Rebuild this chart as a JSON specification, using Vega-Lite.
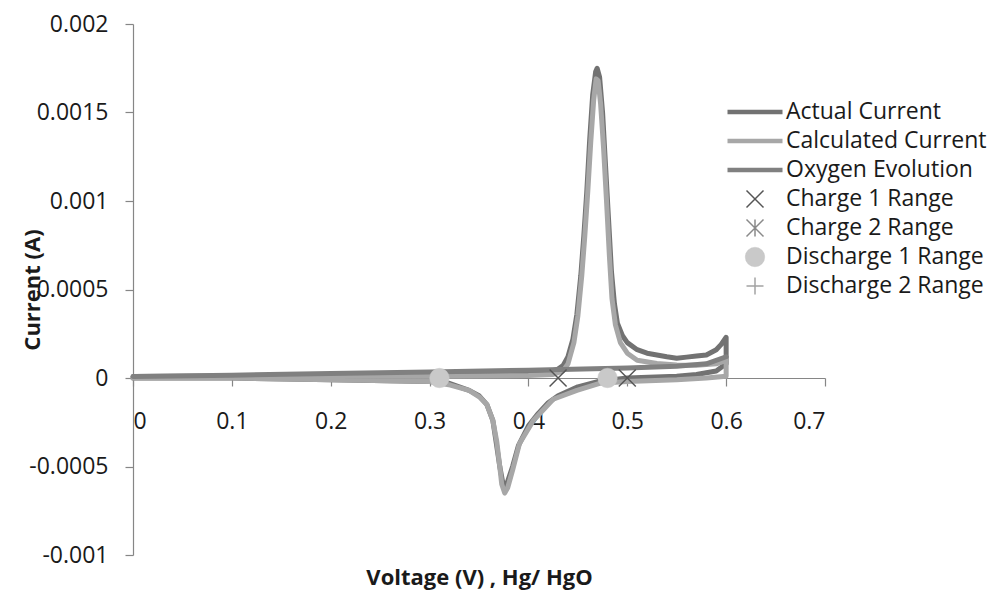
{
  "$schema": "https://vega.github.io/schema/vega-lite/v6.json",
  "width": 692,
  "height": 531,
  "autosize": {"type": "none"},
  "padding": {"left": 133, "top": 24, "right": 182, "bottom": 37},
  "background": "white",
  "config": {
    "view": {"stroke": null},
    "font": "Open Sans",
    "axis": {"grid": false, "domainColor": "#868686", "tickColor": "#868686", "domainWidth": 1.2, "tickWidth": 1.2, "tickSize": 8, "labelColor": "#1a1a1a", "labelFont": "Open Sans", "labelFontSize": 23, "titleFont": "Open Sans", "titleFontSize": 22, "titleFontWeight": "bold", "titleColor": "#1a1a1a"},
    "legend": {"title": null, "orient": "none", "legendX": 592, "legendY": 73.5, "padding": 0, "rowPadding": 0, "clipHeight": 29, "labelFont": "Open Sans", "labelFontSize": 23, "labelColor": "#1a1a1a", "labelOffset": 1, "labelLimit": 400, "symbolOpacity": 1}
  },
  "datasets": {
    "curves": [
      {"series": "Actual Current", "i": 1, "v": 0.0, "c": 0.000008},
      {"series": "Actual Current", "i": 2, "v": 0.1, "c": 0.000012},
      {"series": "Actual Current", "i": 3, "v": 0.2, "c": 0.000017},
      {"series": "Actual Current", "i": 4, "v": 0.3, "c": 0.000022},
      {"series": "Actual Current", "i": 5, "v": 0.4, "c": 0.000028},
      {"series": "Actual Current", "i": 6, "v": 0.42, "c": 0.000034},
      {"series": "Actual Current", "i": 7, "v": 0.43, "c": 0.00005},
      {"series": "Actual Current", "i": 8, "v": 0.435, "c": 0.00007},
      {"series": "Actual Current", "i": 9, "v": 0.44, "c": 0.00012},
      {"series": "Actual Current", "i": 10, "v": 0.445, "c": 0.00022},
      {"series": "Actual Current", "i": 11, "v": 0.449, "c": 0.00036},
      {"series": "Actual Current", "i": 12, "v": 0.453, "c": 0.00058},
      {"series": "Actual Current", "i": 13, "v": 0.456, "c": 0.0008},
      {"series": "Actual Current", "i": 14, "v": 0.459, "c": 0.00105},
      {"series": "Actual Current", "i": 15, "v": 0.462, "c": 0.00135},
      {"series": "Actual Current", "i": 16, "v": 0.465, "c": 0.0016},
      {"series": "Actual Current", "i": 17, "v": 0.468, "c": 0.00173},
      {"series": "Actual Current", "i": 18, "v": 0.4695, "c": 0.00175},
      {"series": "Actual Current", "i": 19, "v": 0.472, "c": 0.0017},
      {"series": "Actual Current", "i": 20, "v": 0.475, "c": 0.0015},
      {"series": "Actual Current", "i": 21, "v": 0.478, "c": 0.0012},
      {"series": "Actual Current", "i": 22, "v": 0.481, "c": 0.0009},
      {"series": "Actual Current", "i": 23, "v": 0.484, "c": 0.0006},
      {"series": "Actual Current", "i": 24, "v": 0.487, "c": 0.00042},
      {"series": "Actual Current", "i": 25, "v": 0.49, "c": 0.00031},
      {"series": "Actual Current", "i": 26, "v": 0.495, "c": 0.00024},
      {"series": "Actual Current", "i": 27, "v": 0.5, "c": 0.0002},
      {"series": "Actual Current", "i": 28, "v": 0.51, "c": 0.00016},
      {"series": "Actual Current", "i": 29, "v": 0.52, "c": 0.00014},
      {"series": "Actual Current", "i": 30, "v": 0.53, "c": 0.00013},
      {"series": "Actual Current", "i": 31, "v": 0.54, "c": 0.00012},
      {"series": "Actual Current", "i": 32, "v": 0.55, "c": 0.000112},
      {"series": "Actual Current", "i": 33, "v": 0.56, "c": 0.000118},
      {"series": "Actual Current", "i": 34, "v": 0.57, "c": 0.000124},
      {"series": "Actual Current", "i": 35, "v": 0.58, "c": 0.00013},
      {"series": "Actual Current", "i": 36, "v": 0.59, "c": 0.00016},
      {"series": "Actual Current", "i": 37, "v": 0.595, "c": 0.00019},
      {"series": "Actual Current", "i": 38, "v": 0.6, "c": 0.00023},
      {"series": "Actual Current", "i": 39, "v": 0.6, "c": 0.00008},
      {"series": "Actual Current", "i": 40, "v": 0.59, "c": 0.00004},
      {"series": "Actual Current", "i": 41, "v": 0.57, "c": 0.00002},
      {"series": "Actual Current", "i": 42, "v": 0.55, "c": 0.00001},
      {"series": "Actual Current", "i": 43, "v": 0.5, "c": 0.0},
      {"series": "Actual Current", "i": 44, "v": 0.47, "c": -0.00002},
      {"series": "Actual Current", "i": 45, "v": 0.45, "c": -0.00005},
      {"series": "Actual Current", "i": 46, "v": 0.43, "c": -0.0001},
      {"series": "Actual Current", "i": 47, "v": 0.42, "c": -0.00014},
      {"series": "Actual Current", "i": 48, "v": 0.41, "c": -0.0002},
      {"series": "Actual Current", "i": 49, "v": 0.4, "c": -0.00027},
      {"series": "Actual Current", "i": 50, "v": 0.39, "c": -0.00038},
      {"series": "Actual Current", "i": 51, "v": 0.384, "c": -0.0005},
      {"series": "Actual Current", "i": 52, "v": 0.378, "c": -0.0006},
      {"series": "Actual Current", "i": 53, "v": 0.375, "c": -0.00062},
      {"series": "Actual Current", "i": 54, "v": 0.371, "c": -0.0005},
      {"series": "Actual Current", "i": 55, "v": 0.367, "c": -0.00035},
      {"series": "Actual Current", "i": 56, "v": 0.364, "c": -0.00024},
      {"series": "Actual Current", "i": 57, "v": 0.358, "c": -0.00015},
      {"series": "Actual Current", "i": 58, "v": 0.35, "c": -0.0001},
      {"series": "Actual Current", "i": 59, "v": 0.34, "c": -0.00007},
      {"series": "Actual Current", "i": 60, "v": 0.33, "c": -0.00005},
      {"series": "Actual Current", "i": 61, "v": 0.32, "c": -0.00003},
      {"series": "Actual Current", "i": 62, "v": 0.3, "c": -0.00002},
      {"series": "Actual Current", "i": 63, "v": 0.2, "c": -0.00001},
      {"series": "Actual Current", "i": 64, "v": 0.1, "c": 0.0},
      {"series": "Actual Current", "i": 65, "v": 0.0, "c": 0.0},

      {"series": "Calculated Current", "i": 1, "v": 0.0, "c": 0.000004},
      {"series": "Calculated Current", "i": 2, "v": 0.1, "c": 0.000006},
      {"series": "Calculated Current", "i": 3, "v": 0.2, "c": 0.000008},
      {"series": "Calculated Current", "i": 4, "v": 0.3, "c": 0.00001},
      {"series": "Calculated Current", "i": 5, "v": 0.4, "c": 0.000014},
      {"series": "Calculated Current", "i": 6, "v": 0.425, "c": 0.00002},
      {"series": "Calculated Current", "i": 7, "v": 0.435, "c": 0.00004},
      {"series": "Calculated Current", "i": 8, "v": 0.44, "c": 0.00008},
      {"series": "Calculated Current", "i": 9, "v": 0.446, "c": 0.0002},
      {"series": "Calculated Current", "i": 10, "v": 0.45, "c": 0.00035},
      {"series": "Calculated Current", "i": 11, "v": 0.454, "c": 0.00058},
      {"series": "Calculated Current", "i": 12, "v": 0.457, "c": 0.0008},
      {"series": "Calculated Current", "i": 13, "v": 0.46, "c": 0.00105},
      {"series": "Calculated Current", "i": 14, "v": 0.463, "c": 0.00133},
      {"series": "Calculated Current", "i": 15, "v": 0.466, "c": 0.00157},
      {"series": "Calculated Current", "i": 16, "v": 0.4685, "c": 0.00169},
      {"series": "Calculated Current", "i": 17, "v": 0.4705, "c": 0.00168},
      {"series": "Calculated Current", "i": 18, "v": 0.473, "c": 0.00155},
      {"series": "Calculated Current", "i": 19, "v": 0.476, "c": 0.0013},
      {"series": "Calculated Current", "i": 20, "v": 0.479, "c": 0.001},
      {"series": "Calculated Current", "i": 21, "v": 0.482, "c": 0.00068},
      {"series": "Calculated Current", "i": 22, "v": 0.4845, "c": 0.00045},
      {"series": "Calculated Current", "i": 23, "v": 0.488, "c": 0.0003},
      {"series": "Calculated Current", "i": 24, "v": 0.493, "c": 0.0002},
      {"series": "Calculated Current", "i": 25, "v": 0.5, "c": 0.00014},
      {"series": "Calculated Current", "i": 26, "v": 0.51, "c": 0.0001},
      {"series": "Calculated Current", "i": 27, "v": 0.53, "c": 0.000082},
      {"series": "Calculated Current", "i": 28, "v": 0.55, "c": 0.000074},
      {"series": "Calculated Current", "i": 29, "v": 0.57, "c": 0.000072},
      {"series": "Calculated Current", "i": 30, "v": 0.59, "c": 0.00008},
      {"series": "Calculated Current", "i": 31, "v": 0.6, "c": 0.0001},
      {"series": "Calculated Current", "i": 32, "v": 0.6, "c": 0.00001},
      {"series": "Calculated Current", "i": 33, "v": 0.58, "c": 0.0},
      {"series": "Calculated Current", "i": 34, "v": 0.55, "c": -0.00001},
      {"series": "Calculated Current", "i": 35, "v": 0.5, "c": -0.00002},
      {"series": "Calculated Current", "i": 36, "v": 0.472, "c": -0.00003},
      {"series": "Calculated Current", "i": 37, "v": 0.449, "c": -0.00007},
      {"series": "Calculated Current", "i": 38, "v": 0.425, "c": -0.00012},
      {"series": "Calculated Current", "i": 39, "v": 0.405, "c": -0.00024},
      {"series": "Calculated Current", "i": 40, "v": 0.391, "c": -0.00037},
      {"series": "Calculated Current", "i": 41, "v": 0.384, "c": -0.00052},
      {"series": "Calculated Current", "i": 42, "v": 0.379, "c": -0.00062},
      {"series": "Calculated Current", "i": 43, "v": 0.376, "c": -0.00065},
      {"series": "Calculated Current", "i": 44, "v": 0.373, "c": -0.0006},
      {"series": "Calculated Current", "i": 45, "v": 0.371, "c": -0.0005},
      {"series": "Calculated Current", "i": 46, "v": 0.368, "c": -0.00036},
      {"series": "Calculated Current", "i": 47, "v": 0.364, "c": -0.00024},
      {"series": "Calculated Current", "i": 48, "v": 0.358, "c": -0.00015},
      {"series": "Calculated Current", "i": 49, "v": 0.351, "c": -0.00011},
      {"series": "Calculated Current", "i": 50, "v": 0.34, "c": -0.00007},
      {"series": "Calculated Current", "i": 51, "v": 0.321, "c": -0.00004},
      {"series": "Calculated Current", "i": 52, "v": 0.3, "c": -0.00002},
      {"series": "Calculated Current", "i": 53, "v": 0.2, "c": -0.00001},
      {"series": "Calculated Current", "i": 54, "v": 0.1, "c": 0.0},
      {"series": "Calculated Current", "i": 55, "v": 0.0, "c": 0.0},

      {"series": "Oxygen Evolution", "i": 1, "v": 0.0, "c": 0.000008},
      {"series": "Oxygen Evolution", "i": 2, "v": 0.1, "c": 0.000016},
      {"series": "Oxygen Evolution", "i": 3, "v": 0.2, "c": 0.000025},
      {"series": "Oxygen Evolution", "i": 4, "v": 0.3, "c": 0.000034},
      {"series": "Oxygen Evolution", "i": 5, "v": 0.4, "c": 0.000044},
      {"series": "Oxygen Evolution", "i": 6, "v": 0.5, "c": 0.000056},
      {"series": "Oxygen Evolution", "i": 7, "v": 0.55, "c": 0.000066},
      {"series": "Oxygen Evolution", "i": 8, "v": 0.58, "c": 0.00008},
      {"series": "Oxygen Evolution", "i": 9, "v": 0.6, "c": 0.00012}
    ],
    "markers": [
      {"series": "Charge 1 Range", "v": 0.43, "c": 0.0},
      {"series": "Charge 1 Range", "v": 0.5, "c": 0.0},
      {"series": "Discharge 1 Range", "v": 0.31, "c": 0.0},
      {"series": "Discharge 1 Range", "v": 0.48, "c": 0.0}
    ]
  },
  "layer": [
    {
      "data": {"name": "curves"},
      "mark": {"type": "line", "strokeWidth": 5, "strokeCap": "round", "strokeJoin": "round", "clip": false},
      "encoding": {
        "x": {"field": "v", "type": "quantitative", "scale": {"domain": [0, 0.7], "nice": false, "zero": false},
          "axis": {"title": "Voltage (V) , Hg/ HgO", "values": [0, 0.1, 0.2, 0.3, 0.4, 0.5, 0.6, 0.7], "labelExpr": "'' + datum.value", "offset": -177, "labelPadding": 24, "labelBaseline": "top", "titleY": 199, "titleBaseline": "middle"}},
        "y": {"field": "c", "type": "quantitative", "scale": {"domain": [-0.001, 0.002], "nice": false, "zero": false},
          "axis": {"title": "Current (A)", "values": [-0.001, -0.0005, 0, 0.0005, 0.001, 0.0015, 0.002], "labelExpr": "'' + datum.value", "labelPadding": 17, "titleX": -101, "titleY": 265.5, "titleAngle": -90, "titleBaseline": "middle", "titleAlign": "center"}},
        "color": {"field": "series", "type": "nominal",
          "scale": {"domain": ["Actual Current", "Calculated Current", "Oxygen Evolution", "Charge 1 Range", "Charge 2 Range", "Discharge 1 Range", "Discharge 2 Range"],
                    "range": ["#727272", "#a7a7a7", "#808080", "#555555", "#8a8a8a", "#c9c9c9", "#a3a3a3"]}},
        "order": {"field": "i", "type": "quantitative"}
      }
    },
    {
      "data": {"name": "markers"},
      "mark": {"type": "point", "filled": true, "opacity": 1},
      "encoding": {
        "x": {"field": "v", "type": "quantitative"},
        "y": {"field": "c", "type": "quantitative"},
        "color": {"field": "series", "type": "nominal"},
        "stroke": {"field": "series", "type": "nominal",
          "scale": {"domain": ["Actual Current", "Calculated Current", "Oxygen Evolution", "Charge 1 Range", "Charge 2 Range", "Discharge 1 Range", "Discharge 2 Range"],
                    "range": ["#727272", "#a7a7a7", "#808080", "#555555", "#8a8a8a", "#c9c9c9", "#a3a3a3"]}},
        "shape": {"field": "series", "type": "nominal",
          "scale": {"domain": ["Actual Current", "Calculated Current", "Oxygen Evolution", "Charge 1 Range", "Charge 2 Range", "Discharge 1 Range", "Discharge 2 Range"],
                    "range": ["stroke", "stroke", "stroke", "M-1,-1L1,1M-1,1L1,-1", "M-1,-1L1,1M-1,1L1,-1M0,-1L0,1", "circle", "M-1,0L1,0M0,-1L0,1"]}},
        "size": {"field": "series", "type": "nominal",
          "scale": {"type": "ordinal", "domain": ["Actual Current", "Calculated Current", "Oxygen Evolution", "Charge 1 Range", "Charge 2 Range", "Discharge 1 Range", "Discharge 2 Range"],
                    "range": [3025, 3025, 3025, 289, 289, 380, 289]}},
        "strokeWidth": {"field": "series", "type": "nominal",
          "scale": {"type": "ordinal", "domain": ["Actual Current", "Calculated Current", "Oxygen Evolution", "Charge 1 Range", "Charge 2 Range", "Discharge 1 Range", "Discharge 2 Range"],
                    "range": [4.5, 4.5, 4.5, 1.5, 1.5, 0.5, 1.5]}}
      }
    }
  ]
}
